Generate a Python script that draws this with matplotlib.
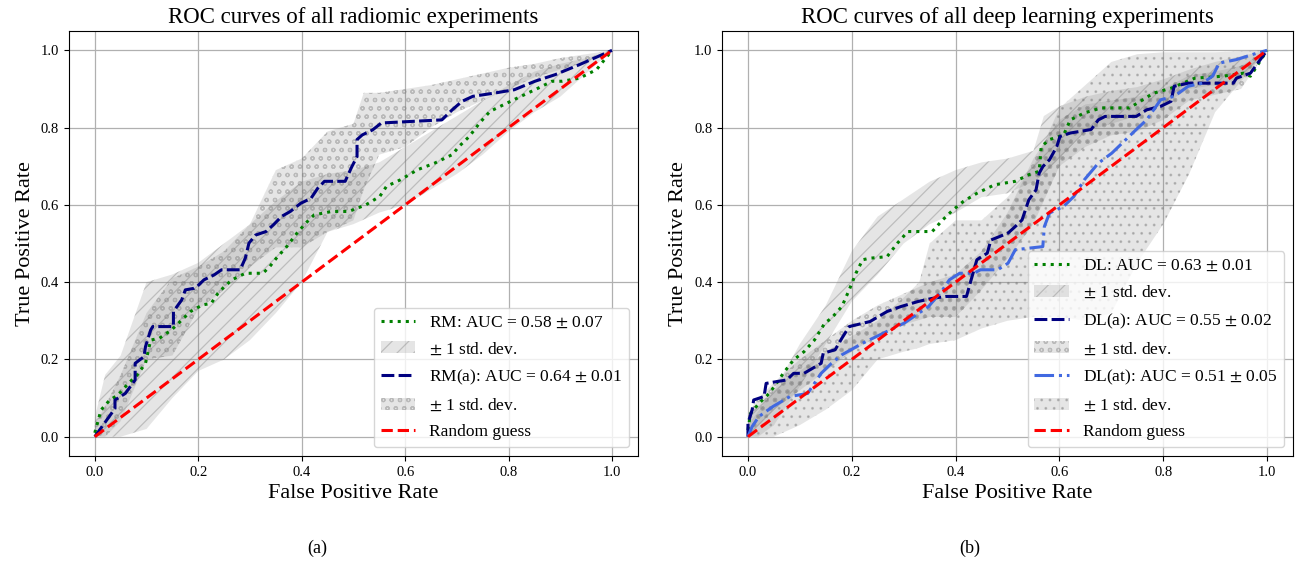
import matplotlib
matplotlib.use("Agg")
import matplotlib.pyplot as plt

plt.rcParams['font.family'] = ['Liberation Serif', 'DejaVu Serif']
plt.rcParams['mathtext.fontset'] = 'stix'
plt.rcParams['hatch.linewidth'] = 0.9

# ---------------- Left panel: radiomics ----------------
rm_fpr = [0, 0.012, 0.029, 0.045, 0.065, 0.082, 0.098, 0.108, 0.125, 0.148, 0.165, 0.185, 0.208, 0.225,
          0.238, 0.251, 0.265, 0.291, 0.325, 0.338, 0.351, 0.371, 0.391, 0.408, 0.424, 0.458, 0.491, 0.524,
          0.551, 0.564, 0.591, 0.624, 0.657, 0.691, 0.704, 0.724, 0.744, 0.764, 0.790, 0.824, 0.857, 0.884,
          0.904, 0.937, 0.970, 1.0]
rm_tpr = [0.01, 0.069, 0.095, 0.108, 0.138, 0.160, 0.190, 0.250, 0.255, 0.276, 0.298, 0.324, 0.341, 0.345,
          0.371, 0.389, 0.406, 0.423, 0.423, 0.440, 0.462, 0.492, 0.527, 0.553, 0.574, 0.583, 0.583, 0.600,
          0.622, 0.648, 0.665, 0.691, 0.708, 0.730, 0.751, 0.777, 0.812, 0.842, 0.859, 0.881, 0.902, 0.920,
          0.920, 0.928, 0.950, 1.0]

rma_fpr = [0.0, 0.039, 0.039, 0.059, 0.078, 0.078, 0.095, 0.098, 0.108, 0.112, 0.152, 0.152, 0.168, 0.175,
           0.192, 0.198, 0.211, 0.231, 0.245, 0.281, 0.291, 0.298, 0.311, 0.331, 0.345, 0.361, 0.378, 0.398,
           0.418, 0.431, 0.444, 0.484, 0.497, 0.507, 0.507, 0.517, 0.537, 0.554, 0.671, 0.691, 0.710, 0.731,
           0.771, 0.811, 0.851, 0.890, 0.937, 1.0]
rma_tpr = [0.0, 0.073, 0.095, 0.112, 0.147, 0.190, 0.207, 0.233, 0.276, 0.285, 0.285, 0.324, 0.354, 0.380,
           0.384, 0.389, 0.406, 0.419, 0.432, 0.432, 0.462, 0.501, 0.522, 0.531, 0.548, 0.570, 0.583, 0.604,
           0.617, 0.643, 0.661, 0.661, 0.699, 0.725, 0.769, 0.781, 0.794, 0.812, 0.820, 0.846, 0.868, 0.881,
           0.889, 0.898, 0.920, 0.937, 0.963, 1.0]

rm_band_x = [0, 0.02, 0.05, 0.10, 0.15, 0.20, 0.25, 0.30, 0.35, 0.40, 0.45, 0.50, 0.55, 0.60, 0.65,
             0.70, 0.75, 0.80, 0.85, 0.90, 0.95, 1.0]
rm_band_hi = [0.05, 0.16, 0.21, 0.40, 0.42, 0.45, 0.50, 0.55, 0.61, 0.66, 0.68, 0.69, 0.71, 0.75, 0.79,
              0.83, 0.87, 0.91, 0.945, 0.965, 0.98, 1.0]
rm_band_lo = [0.0, 0.0, 0.0, 0.02, 0.10, 0.17, 0.20, 0.25, 0.32, 0.40, 0.53, 0.55, 0.58, 0.60, 0.64,
              0.68, 0.73, 0.79, 0.84, 0.88, 0.94, 1.0]

rma_band_x = [0, 0.02, 0.05, 0.10, 0.15, 0.20, 0.25, 0.30, 0.35, 0.40, 0.45, 0.50, 0.52, 0.55, 0.60,
              0.65, 0.70, 0.75, 0.80, 0.85, 0.90, 0.95, 1.0]
rma_band_hi = [0.03, 0.08, 0.16, 0.32, 0.41, 0.44, 0.48, 0.55, 0.69, 0.72, 0.79, 0.81, 0.89, 0.89, 0.90,
               0.91, 0.925, 0.94, 0.955, 0.965, 0.98, 0.99, 1.0]
rma_band_lo = [0.0, 0.0, 0.04, 0.20, 0.21, 0.33, 0.38, 0.44, 0.49, 0.49, 0.53, 0.56, 0.64, 0.73, 0.75,
               0.80, 0.84, 0.87, 0.90, 0.93, 0.95, 0.97, 1.0]

# ---------------- Right panel: deep learning ----------------
dl_fpr = [0, 0.005, 0.021, 0.041, 0.055, 0.068, 0.088, 0.108, 0.128, 0.148, 0.161, 0.181, 0.195, 0.208,
          0.221, 0.235, 0.268, 0.288, 0.308, 0.355, 0.375, 0.395, 0.415, 0.441, 0.475, 0.515, 0.541, 0.561,
          0.565, 0.581, 0.608, 0.621, 0.648, 0.681, 0.735, 0.781, 0.815, 0.861, 0.915, 0.955, 0.968, 1.0]
dl_tpr = [0.017, 0.06, 0.086, 0.112, 0.138, 0.164, 0.199, 0.220, 0.250, 0.294, 0.307, 0.337, 0.380, 0.423,
          0.458, 0.462, 0.466, 0.501, 0.531, 0.531, 0.561, 0.587, 0.609, 0.630, 0.652, 0.661, 0.678, 0.687,
          0.751, 0.769, 0.781, 0.820, 0.838, 0.851, 0.851, 0.889, 0.902, 0.928, 0.933, 0.941, 0.933, 1.0]

dla_fpr = [0, 0, 0.008, 0.011, 0.031, 0.035, 0.075, 0.088, 0.108, 0.141, 0.145, 0.168, 0.181, 0.195,
           0.235, 0.268, 0.295, 0.328, 0.355, 0.381, 0.421, 0.428, 0.441, 0.461, 0.468, 0.501, 0.515, 0.528,
           0.541, 0.555, 0.561, 0.568, 0.581, 0.595, 0.601, 0.621, 0.661, 0.675, 0.688, 0.748, 0.768, 0.795,
           0.815, 0.821, 0.848, 0.935, 0.941, 0.968, 1.0]
dla_tpr = [0, 0.035, 0.069, 0.095, 0.104, 0.138, 0.147, 0.164, 0.164, 0.190, 0.216, 0.225, 0.255, 0.285,
           0.298, 0.324, 0.337, 0.350, 0.358, 0.363, 0.363, 0.397, 0.458, 0.475, 0.509, 0.527, 0.544, 0.561,
           0.613, 0.639, 0.682, 0.699, 0.717, 0.751, 0.777, 0.786, 0.795, 0.820, 0.829, 0.829, 0.846, 0.855,
           0.868, 0.907, 0.915, 0.915, 0.928, 0.941, 1.0]

dlat_fpr = [0, 0.008, 0.021, 0.048, 0.081, 0.115, 0.141, 0.161, 0.181, 0.221, 0.261, 0.301, 0.348, 0.375,
            0.388, 0.408, 0.435, 0.448, 0.481, 0.501, 0.515, 0.568, 0.571, 0.581, 0.608, 0.628, 0.648, 0.675,
            0.701, 0.728, 0.748, 0.768, 0.795, 0.821, 0.848, 0.875, 0.895, 0.908, 0.941, 0.981, 1.0]
dlat_tpr = [0, 0.026, 0.052, 0.078, 0.104, 0.112, 0.164, 0.190, 0.212, 0.242, 0.268, 0.294, 0.337, 0.380,
            0.406, 0.423, 0.423, 0.432, 0.432, 0.449, 0.484, 0.492, 0.544, 0.579, 0.596, 0.622, 0.665, 0.708,
            0.734, 0.769, 0.795, 0.820, 0.872, 0.881, 0.907, 0.915, 0.933, 0.967, 0.976, 0.993, 1.0]

dl_band_x = [0, 0.02, 0.05, 0.10, 0.15, 0.20, 0.25, 0.30, 0.35, 0.40, 0.45, 0.50, 0.55, 0.57, 0.60,
             0.65, 0.70, 0.75, 0.80, 0.85, 0.90, 0.95, 1.0]
dl_band_hi = [0.05, 0.08, 0.12, 0.24, 0.34, 0.48, 0.57, 0.615, 0.66, 0.69, 0.71, 0.72, 0.74, 0.83, 0.855,
              0.88, 0.895, 0.905, 0.925, 0.95, 0.97, 0.985, 1.0]
dl_band_lo = [0.0, 0.0, 0.03, 0.13, 0.24, 0.35, 0.42, 0.50, 0.55, 0.58, 0.62, 0.63, 0.66, 0.68, 0.72,
              0.79, 0.81, 0.83, 0.86, 0.90, 0.91, 0.925, 1.0]

dla_band_x = [0, 0.02, 0.05, 0.10, 0.15, 0.20, 0.25, 0.30, 0.35, 0.40, 0.45, 0.50, 0.55, 0.60, 0.65,
              0.70, 0.75, 0.80, 0.85, 0.90, 0.95, 1.0]
dla_band_hi = [0.06, 0.10, 0.14, 0.20, 0.25, 0.30, 0.34, 0.37, 0.40, 0.42, 0.48, 0.58, 0.72, 0.82, 0.86,
               0.87, 0.88, 0.90, 0.935, 0.945, 0.96, 1.0]
dla_band_lo = [0.0, 0.03, 0.07, 0.12, 0.17, 0.22, 0.26, 0.29, 0.31, 0.31, 0.38, 0.46, 0.55, 0.70, 0.75,
               0.78, 0.79, 0.82, 0.87, 0.885, 0.90, 1.0]

dlat_band_x = [0, 0.05, 0.10, 0.15, 0.20, 0.25, 0.30, 0.33, 0.35, 0.40, 0.45, 0.50, 0.55, 0.60, 0.65,
               0.70, 0.75, 0.80, 0.85, 0.90, 0.95, 1.0]
dlat_band_hi = [0.03, 0.12, 0.17, 0.22, 0.26, 0.30, 0.36, 0.40, 0.50, 0.56, 0.56, 0.62, 0.70, 0.85, 0.91,
                0.97, 0.99, 0.995, 0.995, 0.995, 0.998, 1.0]
dlat_band_lo = [0.0, 0.0, 0.03, 0.07, 0.12, 0.20, 0.22, 0.23, 0.24, 0.25, 0.28, 0.30, 0.31, 0.31, 0.30,
                0.32, 0.45, 0.55, 0.68, 0.84, 0.92, 1.0]

ticks = [0.0, 0.2, 0.4, 0.6, 0.8, 1.0]
diag = [0.0, 1.0]

fig = plt.figure(figsize=(12.96, 5.65), dpi=100)
axL = fig.add_axes([0.0532, 0.1929, 0.4390, 0.7522])
axR = fig.add_axes([0.5571, 0.1929, 0.4406, 0.7522])

band_kw = dict(facecolor=(0.5, 0.5, 0.5, 0.2), edgecolor=(0.45, 0.45, 0.45, 0.35), linewidth=0)
PM = r'$\pm$'
navy_ls = (0, (4.2, 1.4))

# Left
axL.plot(rm_fpr, rm_tpr, color='green', linestyle=':', lw=2.2, label=f'RM: AUC = 0.58 {PM} 0.07')
axL.fill_between(rm_band_x, rm_band_lo, rm_band_hi, hatch='//', label=f'{PM} 1 std. dev.', **band_kw)
axL.plot(rma_fpr, rma_tpr, color='navy', linestyle=navy_ls, lw=2.2, label=f'RM(a): AUC = 0.64 {PM} 0.01')
axL.fill_between(rma_band_x, rma_band_lo, rma_band_hi, hatch='oo', label=f'{PM} 1 std. dev.', **band_kw)
axL.plot(diag, diag, color='red', linestyle='--', lw=2.2, label='Random guess')
axL.set_title('ROC curves of all radiomic experiments', fontsize=16.5)

# Right
axR.plot(dl_fpr, dl_tpr, color='green', linestyle=':', lw=2.2, label=f'DL: AUC = 0.63 {PM} 0.01')
axR.fill_between(dl_band_x, dl_band_lo, dl_band_hi, hatch='//', label=f'{PM} 1 std. dev.', **band_kw)
axR.plot(dla_fpr, dla_tpr, color='navy', linestyle=navy_ls, lw=2.2, label=f'DL(a): AUC = 0.55 {PM} 0.02')
axR.fill_between(dla_band_x, dla_band_lo, dla_band_hi, hatch='oo', label=f'{PM} 1 std. dev.', **band_kw)
axR.plot(dlat_fpr, dlat_tpr, color='royalblue', linestyle='-.', lw=2.2, label=f'DL(at): AUC = 0.51 {PM} 0.05')
axR.fill_between(dlat_band_x, dlat_band_lo, dlat_band_hi, hatch='..', label=f'{PM} 1 std. dev.', **band_kw)
axR.plot(diag, diag, color='red', linestyle='--', lw=2.2, label='Random guess')
axR.set_title('ROC curves of all deep learning experiments', fontsize=16.5)

for ax in (axL, axR):
    ax.set_xlim(-0.05, 1.05)
    ax.set_ylim(-0.05, 1.05)
    ax.set_xticks(ticks)
    ax.set_yticks(ticks)
    ax.tick_params(labelsize=10.5)
    ax.grid(True, color='#b0b0b0', lw=0.9)
    ax.set_axisbelow(True)
    ax.set_xlabel('False Positive Rate', fontsize=16)
    ax.set_ylabel('True Positive Rate', fontsize=16)
    ax.legend(loc='lower right', fontsize=12.5, labelspacing=0.6)

fig.text(0.2446, 0.03, '(a)', fontsize=13, ha='center', va='center')
fig.text(0.7485, 0.03, '(b)', fontsize=13, ha='center', va='center')

fig.savefig('out.png', dpi=100)
